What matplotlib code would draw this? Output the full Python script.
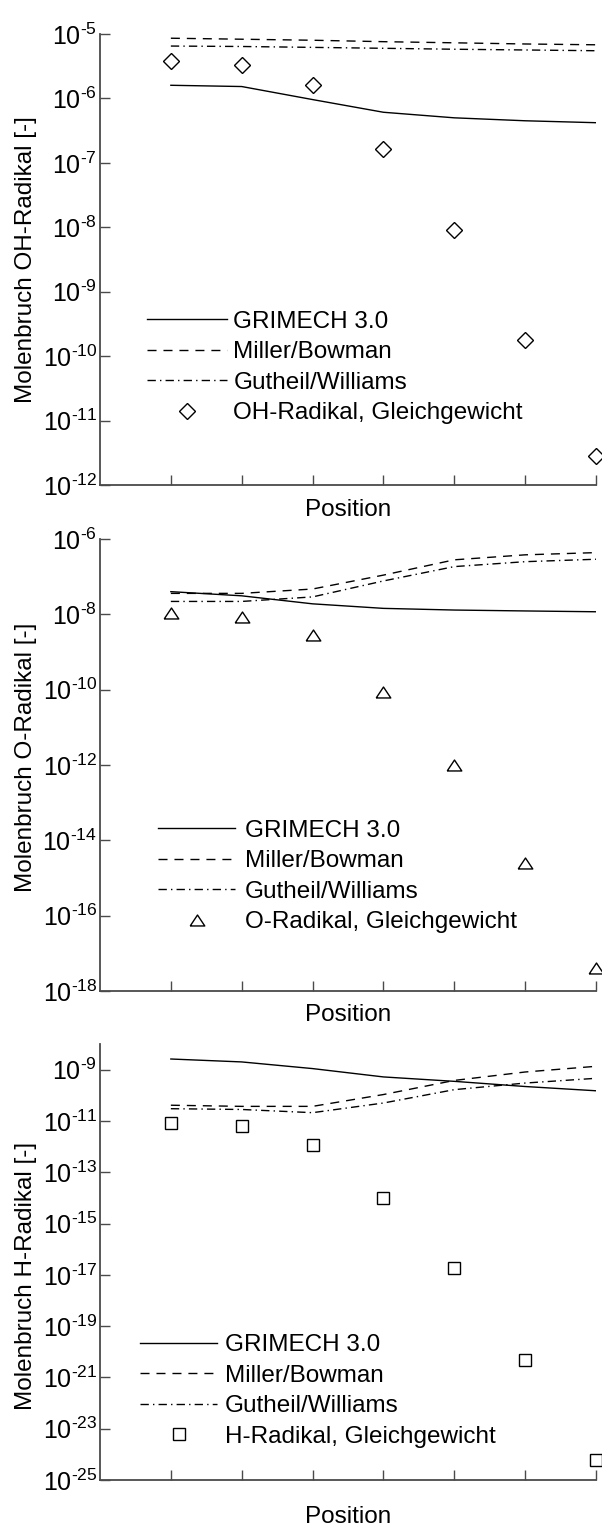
import numpy as np
import matplotlib
matplotlib.use("Agg")
import matplotlib.pyplot as plt
from matplotlib.ticker import FixedLocator, FuncFormatter, NullLocator

plt.rcParams["font.family"] = ["Liberation Sans", "DejaVu Sans"]
plt.rcParams["mathtext.fontset"] = "custom"
plt.rcParams["mathtext.rm"] = "Liberation Sans"
plt.rcParams["mathtext.it"] = "Liberation Sans:italic"
plt.rcParams["mathtext.bf"] = "Liberation Sans:bold"

# Positions along the flame (unlabelled stations 1..7)
positions = [1, 2, 3, 4, 5, 6, 7]

# OH radical mole fractions
oh_grimech = [1.6e-6, 1.53e-6, 9.6e-7, 6.1e-7, 5.0e-7, 4.5e-7, 4.2e-7]
oh_miller = [8.6e-6, 8.3e-6, 8.0e-6, 7.6e-6, 7.3e-6, 7.0e-6, 6.8e-6]
oh_gutheil = [6.5e-6, 6.4e-6, 6.2e-6, 6.0e-6, 5.8e-6, 5.65e-6, 5.5e-6]
oh_equil = [3.8e-6, 3.35e-6, 1.6e-6, 1.65e-7, 9.1e-9, 1.8e-10, 2.8e-12]

# O radical mole fractions
o_grimech = [4.0e-8, 3.1e-8, 1.9e-8, 1.44e-8, 1.3e-8, 1.23e-8, 1.17e-8]
o_miller = [3.6e-8, 3.6e-8, 4.7e-8, 1.1e-7, 2.8e-7, 3.8e-7, 4.35e-7]
o_gutheil = [2.2e-8, 2.2e-8, 2.9e-8, 7.7e-8, 1.85e-7, 2.5e-7, 2.9e-7]
o_equil = [1.07e-8, 8.7e-9, 2.8e-9, 8.9e-11, 1.0e-12, 2.5e-15, 4.0e-18]

# H radical mole fractions
h_grimech = [2.6e-9, 2.0e-9, 1.1e-9, 5.2e-10, 3.5e-10, 2.2e-10, 1.5e-10]
h_miller = [4.1e-11, 3.7e-11, 3.7e-11, 1.07e-10, 3.8e-10, 8.1e-10, 1.35e-9]
h_gutheil = [3.0e-11, 2.8e-11, 2.1e-11, 5.0e-11, 1.66e-10, 3.0e-10, 4.6e-10]
h_equil = [8.3e-12, 6.2e-12, 1.2e-12, 1.0e-14, 1.9e-17, 4.8e-21, 6.0e-25]

series_labels = ["GRIMECH 3.0", "Miller/Bowman", "Gutheil/Williams"]
ylabels = ["Molenbruch OH-Radikal [-]", "Molenbruch O-Radikal [-]",
           "Molenbruch H-Radikal [-]"]
equil_labels = ["OH-Radikal, Gleichgewicht", "O-Radikal, Gleichgewicht",
                "H-Radikal, Gleichgewicht"]
xlabel = "Position"

ytick_exponents = [list(range(-12, -4)), list(range(-18, -5, 2)),
                   list(range(-25, -8, 2))]
ylims = [(1e-12, 1e-5), (1e-18, 1e-6), (1e-25, 1e-8)]

W, H = 602, 1530
fig = plt.figure(figsize=(W / 100, H / 100), dpi=100)

# axes boxes in pixels: (top, bottom)
boxes = [(34, 485), (539, 991), (1044, 1480)]
left_px, right_px = 100, 596

tri = [(-1, -0.75), (1, -0.75), (0, 0.75), (-1, -0.75)]
markers = [dict(marker="D", ms=8.5), dict(marker=tri, ms=10.5),
           dict(marker="s", ms=8.4)]

legend_cfg = [
    dict(x=147, yc=367.5, hl=3.3, pad=0.25),
    dict(x=158, yc=876.5, hl=3.17, pad=0.41),
    dict(x=140, yc=1391, hl=3.17, pad=0.33),
]
ylabel_y = [0.50, 0.518, 0.468]
xlabel_off = [25, 24, 37]

data = [
    (oh_grimech, oh_miller, oh_gutheil, oh_equil),
    (o_grimech, o_miller, o_gutheil, o_equil),
    (h_grimech, h_miller, h_gutheil, h_equil),
]

spine_col = "#4a4a4a"


def decade_label(v, pos):
    return r"$\mathregular{10^{\text{-}%d}}$" % int(round(-np.log10(v)))


for i, (top, bot) in enumerate(boxes):
    ax = fig.add_axes([left_px / W, 1 - bot / H, (right_px - left_px) / W,
                       (bot - top) / H])
    g, m, gw, eq = data[i]
    ax.plot(positions, g, color="black", lw=1.0, label=series_labels[0])
    ax.plot(positions, m, color="black", lw=1.0, dashes=(6.5, 5),
            label=series_labels[1])
    ax.plot(positions, gw, color="black", lw=1.0, dashes=(6, 3, 1, 3),
            label=series_labels[2])
    ax.plot(positions, eq, linestyle="none", mfc="none", mec="black",
            mew=1.0, clip_on=False, label=equil_labels[i], **markers[i])

    ax.set_yscale("log")
    ax.set_xlim(0, 7)
    ax.set_ylim(*ylims[i])
    ax.xaxis.set_major_locator(FixedLocator(positions))
    ax.xaxis.set_major_formatter(FuncFormatter(lambda v, p: ""))
    ax.yaxis.set_major_locator(FixedLocator([10.0 ** e for e in ytick_exponents[i]]))
    ax.yaxis.set_minor_locator(NullLocator())
    ax.yaxis.set_major_formatter(FuncFormatter(decade_label))

    for s in ("top", "right"):
        ax.spines[s].set_visible(False)
    for s in ("left", "bottom"):
        ax.spines[s].set_color(spine_col)
        ax.spines[s].set_linewidth(1.3)
    ax.tick_params(axis="both", direction="in", length=7.5, width=1.0,
                   color=spine_col, labelsize=18, pad=2)

    ax.set_ylabel(ylabels[i], fontsize=17.5, va="center")
    ax.yaxis.set_label_coords((26 - left_px) / (right_px - left_px), ylabel_y[i])
    ax.set_xlabel(xlabel, fontsize=17.5, va="center")
    ax.xaxis.set_label_coords(0.5, -xlabel_off[i] / (bot - top))

    lc = legend_cfg[i]
    ax.legend(loc="center left",
              bbox_to_anchor=((lc["x"] - left_px) / (right_px - left_px),
                              (bot - lc["yc"]) / (bot - top)),
              frameon=False, fontsize=17.5, borderpad=0, borderaxespad=0,
              handlelength=lc["hl"], handletextpad=lc["pad"],
              labelspacing=0.35, numpoints=1)

fig.savefig("out.png", dpi=100)
